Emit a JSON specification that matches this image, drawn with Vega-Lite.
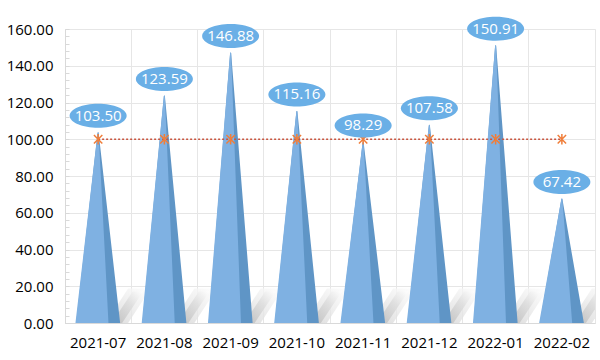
{
  "$schema": "https://vega.github.io/schema/vega-lite/v6.json",
  "width": 530,
  "height": 294,
  "autosize": {"type": "none"},
  "padding": {"left": 65, "top": 29, "right": 5, "bottom": 37},
  "background": "#ffffff",
  "config": {
    "view": {"stroke": "#E6E6E6"},
    "font": "Open Sans"
  },
  "data": {
    "values": [
      {"month": "2021-07", "value": 103.50, "target": 100},
      {"month": "2021-08", "value": 123.59, "target": 100},
      {"month": "2021-09", "value": 146.88, "target": 100},
      {"month": "2021-10", "value": 115.16, "target": 100},
      {"month": "2021-11", "value": 98.29, "target": 100},
      {"month": "2021-12", "value": 107.58, "target": 100},
      {"month": "2022-01", "value": 150.91, "target": 100},
      {"month": "2022-02", "value": 67.42, "target": 100}
    ]
  },
  "resolve": {"axis": {"y": "independent"}},
  "encoding": {
    "x": {
      "field": "month", "type": "nominal", "sort": null,
      "scale": {"paddingInner": 0, "paddingOuter": 0},
      "axis": {
        "title": null, "labelAngle": 0, "labelFontSize": 15, "labelColor": "#000000",
        "labelFont": "Open Sans", "ticks": false, "labelPadding": 12,
        "domainColor": "#D9D9D9", "grid": true, "gridColor": "#E6E6E6", "bandPosition": 0
      }
    }
  },
  "layer": [
    {
      "mark": {
        "type": "point",
        "shape": "M0.25,0L1.0,0L1.75,-1.15L1.0,-1.15Z",
        "filled": true, "size": 3600, "opacity": 0.8, "clip": true,
        "color": {"gradient": "linear", "x1": 0, "y1": 1, "x2": 1, "y2": 0,
          "stops": [{"offset": 0, "color": "#D2D2D2"}, {"offset": 0.55, "color": "#ECECEC"}, {"offset": 1, "color": "#FFFFFF"}]}
      },
      "encoding": {
        "y": {
          "datum": 0, "type": "quantitative",
          "scale": {"domain": [0, 160], "nice": false},
          "axis": {
            "title": null, "orient": "left", "offset": 0,
            "values": [0,4,8,12,16,20,24,28,32,36,40,44,48,52,56,60,64,68,72,76,80,84,88,92,96,100,104,108,112,116,120,124,128,132,136,140,144,148,152,156,160],
            "labels": false, "grid": false, "domain": false,
            "tickSize": -4, "tickColor": "#D9D9D9"
          }
        }
      }
    },
    {
      "mark": {
        "type": "point",
        "shape": "M0.45,0L0.8,0L1.5,-1.05L1.15,-1.05Z",
        "filled": true, "size": 3600, "opacity": 0.85, "clip": true,
        "color": {"gradient": "linear", "x1": 0, "y1": 1, "x2": 1, "y2": 0,
          "stops": [{"offset": 0, "color": "#BBBBBB"}, {"offset": 0.6, "color": "#DDDDDD"}, {"offset": 1, "color": "#FFFFFF"}]}
      },
      "encoding": {
        "y": {"datum": 0, "type": "quantitative", "axis": null}
      }
    },
    {
      "transform": [
        {"calculate": "0", "as": "base"},
        {"fold": ["value", "base"], "as": ["end", "y"]}
      ],
      "mark": {"type": "trail", "color": "#5F95C6", "clip": true},
      "encoding": {
        "y": {
          "field": "y", "type": "quantitative",
          "axis": {
            "title": null, "orient": "left", "offset": 0,
            "values": [0, 20, 40, 60, 80, 100, 120, 140, 160],
            "format": ".2f",
            "labelOverlap": false,
            "labelFontSize": 15, "labelColor": "#000000", "labelFont": "Open Sans",
            "ticks": false, "labelPadding": 12,
            "domainColor": "#D9D9D9",
            "grid": true, "gridColor": "#E6E6E6"
          }
        },
        "detail": {"field": "month"},
        "order": {"field": "end", "sort": "ascending"},
        "size": {"condition": {"test": "datum.end === 'base'", "value": 44}, "value": 0}
      }
    },
    {
      "transform": [
        {"calculate": "0", "as": "base"},
        {"fold": ["value", "base"], "as": ["end", "y"]}
      ],
      "mark": {"type": "trail", "color": "#7FB1E2", "clip": true},
      "encoding": {
        "y": {"field": "y", "type": "quantitative", "axis": null},
        "xOffset": {"field": "end", "type": "nominal", "scale": {"type": "point", "domain": ["base", "value"], "range": [27, 33.1], "padding": 0}},
        "detail": {"field": "month"},
        "order": {"field": "end", "sort": "ascending"},
        "size": {"condition": {"test": "datum.end === 'base'", "value": 33}, "value": 0}
      }
    },
    {
      "mark": {"type": "line", "color": "#C9553F", "strokeDash": [2, 2], "strokeWidth": 1.5},
      "encoding": {"y": {"field": "target", "type": "quantitative", "axis": null}}
    },
    {
      "mark": {"type": "point", "shape": "M-0.8,-0.8L0.8,0.8M-0.8,0.8L0.8,-0.8M0,-1L0,1", "filled": false, "color": "#F07E3A", "strokeWidth": 1.5, "size": 110, "opacity": 1},
      "encoding": {"y": {"field": "target", "type": "quantitative", "axis": null}}
    },
    {
      "mark": {"type": "point", "shape": "M-1,0A1,0.421,0,1,0,1,0A1,0.421,0,1,0,-1,0Z", "filled": true, "color": "#6AAFE6", "size": 3249, "opacity": 1, "yOffset": -17},
      "encoding": {"y": {"field": "value", "type": "quantitative", "axis": null}}
    },
    {
      "mark": {"type": "text", "color": "#FFFFFF", "fontSize": 15, "font": "Open Sans", "dy": -17, "baseline": "middle"},
      "encoding": {
        "y": {"field": "value", "type": "quantitative", "axis": null},
        "text": {"field": "value", "type": "quantitative", "format": ".2f"}
      }
    }
  ]
}
